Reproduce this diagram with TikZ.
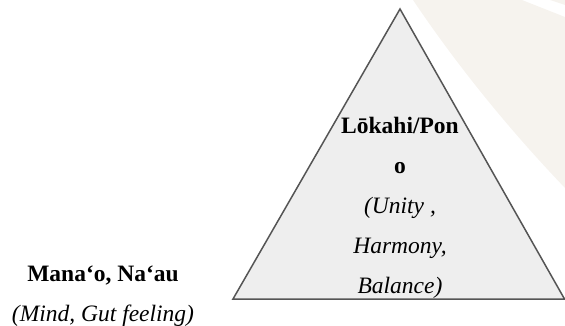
\documentclass[tikz,border=0pt]{standalone}
\usepackage{fontspec}
\setmainfont{Liberation Serif}
\definecolor{beige}{HTML}{F6F3EE}
\definecolor{trifill}{HTML}{EEEEEE}
\definecolor{triline}{HTML}{555555}
\begin{document}
\begin{tikzpicture}[x=1pt,y=-1pt,
  lbl/.style={inner sep=0pt, anchor=base, font=\fontsize{23.5}{28}\selectfont},
  blbl/.style={lbl, font=\fontsize{23.5}{28}\selectfont\bfseries},
  ilbl/.style={lbl, font=\fontsize{23.5}{28}\selectfont\itshape},
  tri/.style={fill=trifill, draw=triline, line width=1.5pt, line join=miter}]
\useasboundingbox (0,0) rectangle (565,326);
% faint background shapes
\fill[beige] (413,0) .. controls (450,55) and (500,120) .. (565,188) -- (565,17) -- (522,0) -- cycle;
\fill[beige] (550,0) -- (565,0) -- (565,5) -- cycle;
% triangle
\coordinate (apex) at (400,9);
\coordinate (bl) at (233,299);
\coordinate (br) at (564.5,299);
\draw[tri] (apex) -- (br) -- (bl) -- cycle;
% triangle text
\node[blbl] (t1) at (400,134) {Lōkahi/Pon};
\node[blbl] (t2) at (400,174) {o};
\node[ilbl] (t3) at (400,213.5) {(Unity ,};
\node[ilbl] (t4) at (400,253.5) {Harmony,};
\node[ilbl] (t5) at (400,293) {Balance)};
% left text
\node[blbl] (m1) at (103,281.5) {Mana‘o, Na‘au};
\node[ilbl] (m2) at (103,321.5) {(Mind, Gut feeling)};
\end{tikzpicture}
\end{document}
